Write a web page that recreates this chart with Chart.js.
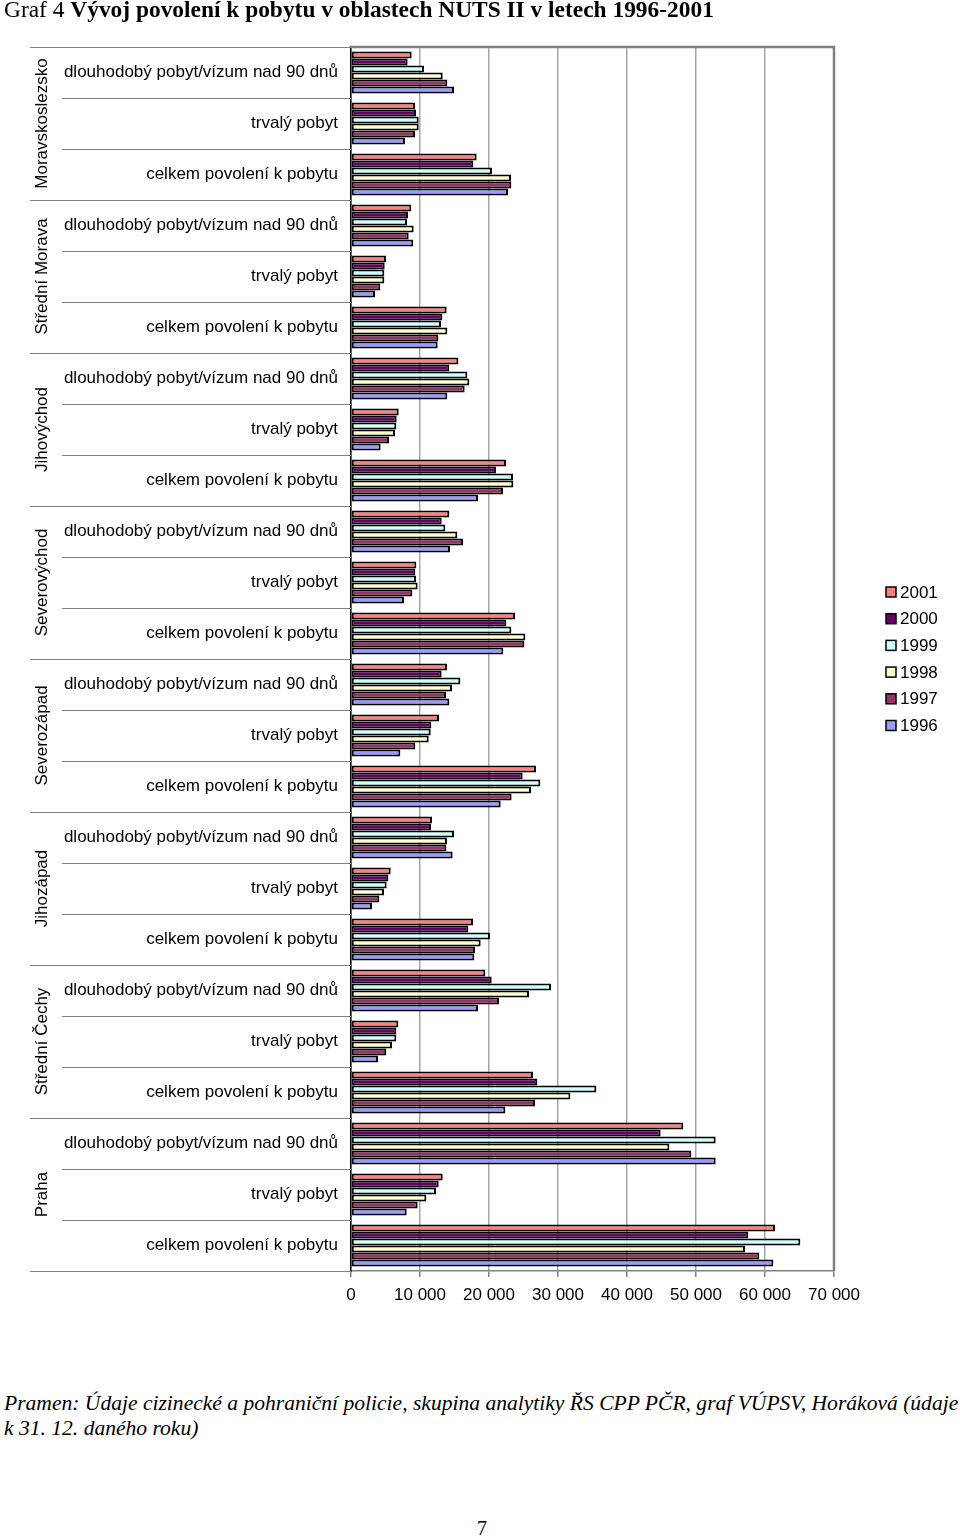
<!DOCTYPE html>
<html>
<head>
<meta charset="utf-8">
<script src="https://cdn.jsdelivr.net/npm/chart.js@4.4.1/dist/chart.umd.min.js"></script>
<style>
    body { margin: 0; background: #fff; }
    #page { position: relative; width: 960px; height: 1539px; }
    #title { position: absolute; left: 4px; top: -3px; font: 22.5px "Liberation Serif", serif; white-space: nowrap; transform: scaleX(1.04); transform-origin: 0 0; }
    #wrap { position: absolute; left: 0; top: 0; width: 960px; height: 1311px; }
    #source { position: absolute; left: 4px; top: 1391px; font: italic 20px "Liberation Serif", serif; line-height: 25px; white-space: nowrap; transform: scaleX(1.078); transform-origin: 0 0; }
    #pageno { position: absolute; left: 0; width: 964px; top: 1517px; text-align: center; font: 20px "Liberation Serif", serif; }
</style>
</head>
<body>
<div id="page">
    <div id="wrap"><canvas id="permitsChart"></canvas></div>
    <div id="title">Graf 4 <b>Vývoj povolení k pobytu v oblastech NUTS II v letech 1996-2001</b></div>
    <div id="source">Pramen: Údaje cizinecké a pohraniční policie, skupina analytiky ŘS CPP PČR, graf VÚPSV, Horáková (údaje<br>k 31. 12. daného roku)</div>
    <div id="pageno">7</div>
</div>
<script>
const regions = ['Moravskoslezsko', 'Střední Morava', 'Jihovýchod', 'Severovýchod', 'Severozápad', 'Jihozápad', 'Střední Čechy', 'Praha'];
const permitTypes = ['dlouhodobý pobyt/vízum nad 90 dnů', 'trvalý pobyt', 'celkem povolení k pobytu'];
const years = ['2001', '2000', '1999', '1998', '1997', '1996'];
const colors = ['#ff8080', '#660066', '#ccffff', '#ffffcc', '#993366', '#9999ff'];
const xTicks = [0, 10000, 20000, 30000, 40000, 50000, 60000, 70000];

// per region: dlouhodobý, trvalý, celkem
const v2001 = [8790, 9280, 18210, 8740, 5070, 13860, 15560, 6910, 22460, 14250, 9470, 23770,
               13910, 12750, 26810, 11740, 5750, 17680, 19470, 6860, 26380, 48160, 13290, 61450];
const v2000 = [8210, 9420, 17730, 8260, 4880, 13240, 14250, 6620, 21010, 13140, 9320, 22510,
               13140, 11640, 24880, 11590, 5410, 17000, 20390, 6570, 27000, 44880, 12710, 57580];
const v1999 = [10580, 9810, 20430, 8120, 4830, 13040, 16860, 6570, 23480, 13670, 9420, 23240,
               15850, 11550, 27440, 14930, 5170, 20140, 28990, 6570, 35560, 52850, 12320, 65120];
const v1998 = [13290, 9810, 23190, 9080, 4830, 13960, 17150, 6380, 23530, 15410, 9660, 25270,
               14640, 11260, 26090, 13910, 4780, 18790, 25800, 5940, 31790, 46140, 10920, 57100];
const v1997 = [13960, 9280, 23240, 8360, 4250, 12660, 16470, 5510, 22030, 16230, 8890, 25120,
               13770, 9320, 23280, 13820, 4110, 17970, 21450, 5120, 26670, 49320, 9660, 59180];
const v1996 = [14930, 7830, 22750, 9030, 3480, 12560, 13960, 4300, 18410, 14350, 7680, 22080,
               14250, 7150, 21690, 14730, 3040, 17870, 18410, 3910, 22370, 52850, 8070, 61210];
const seriesValues = [v2001, v2000, v1999, v1998, v1997, v1996];

const labels = [];
regions.forEach(() => permitTypes.forEach(t => labels.push(t)));

const sansFont = '"Liberation Sans", Arial, sans-serif';

const frame = {
    id: 'frame',
    beforeDatasetsDraw(chart) {
        const { ctx, chartArea: a } = chart;
        const step = (a.bottom - a.top) / labels.length;
        ctx.save();
        ctx.strokeStyle = '#808080';
        ctx.lineWidth = 1;
        for (let i = 0; i <= labels.length; i++) {
            const yy = Math.round(a.top + i * step) + 0.5;
            const x0 = (i % 3 === 0) ? 30 : 62;
            ctx.beginPath();
            ctx.moveTo(x0, yy);
            ctx.lineTo(a.left, yy);
            ctx.stroke();
        }
        ctx.lineWidth = 2.5;
        ctx.beginPath();
        ctx.moveTo(a.left, a.top);
        ctx.lineTo(a.right, a.top);
        ctx.lineTo(a.right, a.bottom);
        ctx.stroke();
        ctx.restore();
    },
    afterDraw(chart) {
        const { ctx, scales: { y } } = chart;
        ctx.save();
        ctx.fillStyle = '#000';
        ctx.font = '17px ' + sansFont;
        ctx.textAlign = 'center';
        ctx.textBaseline = 'middle';
        regions.forEach((r, i) => {
            const yc = (y.getPixelForValue(i * 3) + y.getPixelForValue(i * 3 + 2)) / 2;
            ctx.save();
            ctx.translate(42, yc);
            ctx.rotate(-Math.PI / 2);
            ctx.fillText(r, 0, 0);
            ctx.restore();
        });
        // legend
        ctx.textAlign = 'left';
        years.forEach((yr, i) => {
            const yc = 592 + i * 26.7;
            ctx.fillStyle = colors[i];
            ctx.fillRect(886, yc - 5, 10, 10);
            ctx.strokeStyle = '#000';
            ctx.lineWidth = 1.5;
            ctx.strokeRect(886, yc - 5, 10, 10);
            ctx.fillStyle = '#000';
            ctx.fillText(yr, 900, yc + 1);
        });
        ctx.restore();
    }
};

const canvas = document.getElementById('permitsChart');
new Chart(canvas, {
    type: 'bar',
    data: {
        labels,
        datasets: years.map((yr, i) => ({
            label: yr,
            data: seriesValues[i],
            backgroundColor: colors[i],
            borderColor: '#000',
            borderWidth: 2,
            borderSkipped: false,
            categoryPercentage: 0.82,
            barPercentage: 1,
        })),
    },
    options: {
        indexAxis: 'y',
        responsive: true,
        maintainAspectRatio: false,
        animation: false,
        layout: { padding: { left: 0, top: 47, right: 126, bottom: 0 } },
        scales: {
            x: {
                min: 0,
                max: 70000,
                afterBuildTicks: (scale) => { scale.ticks = xTicks.map(v => ({ value: v })); },
                afterFit: (scale) => { scale.height = 40; },
                grid: { color: '#a6a6a6', lineWidth: 1.5, tickLength: 6, tickColor: '#808080' },
                border: { color: '#808080', width: 1.5 },
                ticks: {
                    color: '#000',
                    padding: 8,
                    font: { family: sansFont, size: 17 },
                    callback: (v) => String(v).replace(/\B(?=(\d{3})+(?!\d))/g, ' '),
                },
            },
            y: {
                afterFit: (scale) => { scale.width = 351; },
                grid: { display: false },
                border: { color: '#000', width: 1.5 },
                ticks: {
                    color: '#000',
                    padding: 5,
                    autoSkip: false,
                    font: { family: sansFont, size: 17 },
                },
            },
        },
        plugins: {
            legend: { display: false },
            tooltip: { enabled: false },
        },
    },
    plugins: [frame],
});
</script>
</body>
</html>
